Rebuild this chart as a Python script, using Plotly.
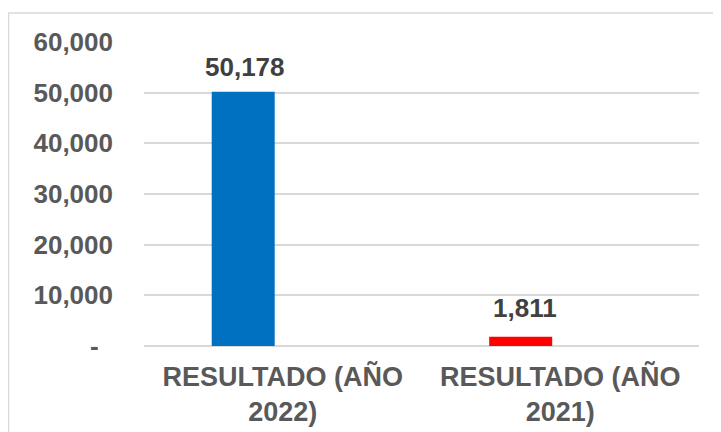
import plotly.graph_objects as go

categories = ["RESULTADO (AÑO<br>2022)", "RESULTADO (AÑO<br>2021)"]
values = [50178, 1811]
bar_colors = ["#0070C0", "#FF0000"]
value_labels = ["50,178", "1,811"]
tick_vals = [0, 10000, 20000, 30000, 40000, 50000, 60000]
tick_text = ["-\u00a0\u00a0", "10,000", "20,000", "30,000", "40,000", "50,000", "60,000"]

W, H = 721, 432
# page body adds an 8px offset; compensate in margins
L, R, T, B = 136, 30, 34, 94
pw, ph = W - L - R, H - T - B

font_family = "Arial, 'Liberation Sans', sans-serif"

fig = go.Figure()
fig.add_trace(go.Bar(
    x=categories,
    y=values,
    marker=dict(color=bar_colors, line=dict(width=0)),
    width=0.227,
    offset=-0.256,
    hoverinfo="skip",
))

label_shifts = [(1, 8), (4, 12)]
annotations = []
for cat, val, lab, (dx, dy) in zip(categories, values, value_labels, label_shifts):
    annotations.append(dict(
        x=cat, y=val, xref="x", yref="y", text=lab, showarrow=False,
        xanchor="center", yanchor="bottom",
        xshift=-39 + dx, yshift=dy,
        font=dict(family=font_family, size=26, color="#404040", weight="bold"),
    ))

fig.update_layout(
    width=W, height=H,
    margin=dict(l=L, r=R, t=T, b=B, pad=0),
    paper_bgcolor="white",
    plot_bgcolor="white",
    showlegend=False,
    font=dict(family=font_family, size=26, color="#595959"),
    annotations=annotations,
    shapes=[dict(
        type="rect", xref="paper", yref="paper",
        x0=(0.5 - L) / pw, x1=1 + (R + 20) / pw,
        y0=-(B + 20) / ph, y1=1 + (T - 5) / ph,
        line=dict(color="#D9D9D9", width=1.5),
        fillcolor="rgba(0,0,0,0)", layer="below",
    )],
)

fig.update_xaxes(
    showgrid=False, zeroline=False, showline=False,
    ticks="", tickfont=dict(family=font_family, size=27, color="#595959", weight="bold"),
    ticklabelstandoff=12,
)
fig.update_yaxes(
    range=[0, 60000],
    tickmode="array", tickvals=tick_vals, ticktext=tick_text,
    showgrid=True, gridcolor="#D9D9D9", gridwidth=1.5,
    zeroline=True, zerolinecolor="#D9D9D9", zerolinewidth=1.5,
    showline=False, ticks="",
    tickfont=dict(family=font_family, size=26, color="#595959", weight="bold"),
    ticklabelstandoff=30,
)

fig.write_html("out.html")
